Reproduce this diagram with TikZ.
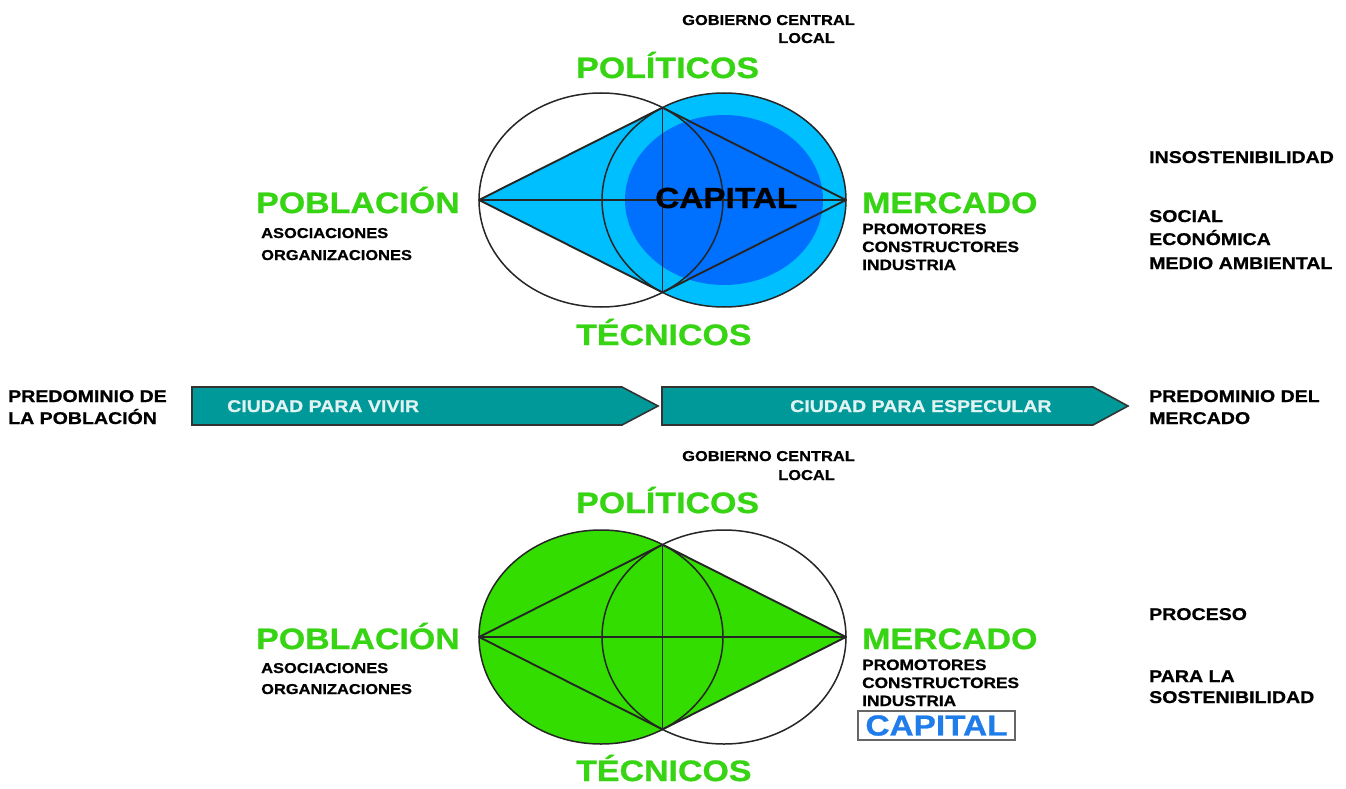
\documentclass[tikz,border=0pt]{standalone}
\usepackage{fontspec}
\newfontfamily\wf[FakeStretch=1.15,FakeBold=0.8]{Liberation Sans}
\definecolor{tgreen}{RGB}{55,212,20}
\definecolor{lblue}{RGB}{0,191,255}
\definecolor{dblue}{RGB}{0,112,255}
\definecolor{lgreen}{RGB}{51,221,0}
\definecolor{teal0}{RGB}{0,153,153}
\definecolor{bandtext}{RGB}{225,242,242}
\definecolor{capblue}{RGB}{30,125,235}
\begin{document}
\begin{tikzpicture}[x=1pt,y=-1pt,
  lbl/.style={anchor=base west, inner sep=0pt, font=\wf\bfseries},
  big/.style={lbl, text=tgreen, font=\wf\bfseries\fontsize{29.5}{30}\selectfont},
  sm/.style={lbl, font=\wf\bfseries\fontsize{14.3}{15}\selectfont},
  md/.style={lbl, font=\wf\bfseries\fontsize{15}{16}\selectfont},
  sd/.style={lbl, font=\wf\bfseries\fontsize{17}{18}\selectfont},
  bandlbl/.style={lbl, text=bandtext, font=\wf\bfseries\fontsize{17}{18}\selectfont},
  outline/.style={draw=black!85, line width=1.5pt},
  cross/.style={draw=black!85, line width=1.9pt, line join=round},
  band/.style={fill=teal0, draw=black!80, line width=1.6pt, line join=miter},
]
\useasboundingbox (0,0) rectangle (1346,789);
\fill[white] (0,0) rectangle (1346,789);

% ---------- top diagram ----------
\coordinate (tL) at (479,200);
\coordinate (tR) at (846,200);
\coordinate (tT) at (662.5,107.6);
\coordinate (tB) at (662.5,292.4);
\fill[lblue] (724,200) ellipse [x radius=122pt, y radius=107pt];
\fill[lblue] (tL) -- (tT) -- (tR) -- (tB) -- cycle;
\fill[dblue] (724,200) ellipse [x radius=99pt, y radius=85pt];
\draw[outline] (601,200) ellipse [x radius=122pt, y radius=107pt];
\draw[outline] (724,200) ellipse [x radius=122pt, y radius=107pt];
\draw[cross] (tL) -- (tT) -- (tR) -- (tB) -- cycle;
\draw[cross] (tL) -- (tR);
\draw[cross] (tT) -- (tB);

\node[sm] (gobA) at (682,25) {GOBIERNO CENTRAL};
\node[sm] (locA) at (778,43) {LOCAL};
\node[big] (polA) at (576,78) {POLÍTICOS};
\node[big] (pobA) at (256,213) {POBLACIÓN};
\node[sm] (asoA) at (261,238) {ASOCIACIONES};
\node[sm] (orgA) at (261,260) {ORGANIZACIONES};
\node[lbl, font=\wf\bfseries\fontsize{29}{30}\selectfont] (capA) at (655,208) {CAPITAL};
\node[big] (merA) at (862,213) {MERCADO};
\node[md] (proA) at (862,234) {PROMOTORES};
\node[md] (conA) at (862,252) {CONSTRUCTORES};
\node[md] (indA) at (862,270) {INDUSTRIA};
\node[big] (tecA) at (576,345) {TÉCNICOS};
\node[sd] (ins) at (1149,163) {INSOSTENIBILIDAD};
\node[sd] (soc) at (1149,222) {SOCIAL};
\node[sd] (eco) at (1149,245) {ECONÓMICA};
\node[sd] (med) at (1149,269) {MEDIO AMBIENTAL};

% ---------- bands ----------
\draw[band] (192,387) -- (622,387) -- (658,406) -- (622,425) -- (192,425) -- cycle;
\draw[band] (662,387) -- (1093,387) -- (1128,406) -- (1093,425) -- (662,425) -- cycle;
\node[bandlbl] (viv) at (227,412) {CIUDAD PARA VIVIR};
\node[bandlbl] (esp) at (790,412) {CIUDAD PARA ESPECULAR};
\node[sd] (preA) at (8,402) {PREDOMINIO DE};
\node[sd] (preB) at (8,424) {LA POBLACIÓN};
\node[sd] (preC) at (1149,402) {PREDOMINIO DEL};
\node[sd] (preD) at (1149,424) {MERCADO};

% ---------- bottom diagram ----------
\coordinate (bL) at (479,637);
\coordinate (bR) at (846,637);
\coordinate (bT) at (662.5,544.6);
\coordinate (bB) at (662.5,729.4);
\fill[lgreen] (601,637) ellipse [x radius=122pt, y radius=107pt];
\fill[lgreen] (bL) -- (bT) -- (bR) -- (bB) -- cycle;
\draw[outline] (601,637) ellipse [x radius=122pt, y radius=107pt];
\draw[outline] (724,637) ellipse [x radius=122pt, y radius=107pt];
\draw[cross] (bL) -- (bT) -- (bR) -- (bB) -- cycle;
\draw[cross] (bL) -- (bR);
\draw[cross] (bT) -- (bB);

\node[sm] (gobB) at (682,461) {GOBIERNO CENTRAL};
\node[sm] (locB) at (778,480) {LOCAL};
\node[big] (polB) at (576,513) {POLÍTICOS};
\node[big] (pobB) at (256,649) {POBLACIÓN};
\node[sm] (asoB) at (261,673) {ASOCIACIONES};
\node[sm] (orgB) at (261,694) {ORGANIZACIONES};
\node[big] (merB) at (862,649) {MERCADO};
\node[md] (proB) at (862,670) {PROMOTORES};
\node[md] (conB) at (862,688) {CONSTRUCTORES};
\node[md] (indB) at (862,706) {INDUSTRIA};
\node[draw=black!60, line width=1.4pt, minimum width=157pt, minimum height=29pt, inner sep=0pt,
      text=capblue, font=\wf\bfseries\fontsize{29}{30}\selectfont] (capB) at (936.5,725.5) {CAPITAL};
\node[big] (tecB) at (576,781) {TÉCNICOS};
\node[sd] (proc) at (1149,620) {PROCESO};
\node[sd] (para) at (1149,682) {PARA LA};
\node[sd] (sost) at (1149,703) {SOSTENIBILIDAD};
\end{tikzpicture}
\end{document}
